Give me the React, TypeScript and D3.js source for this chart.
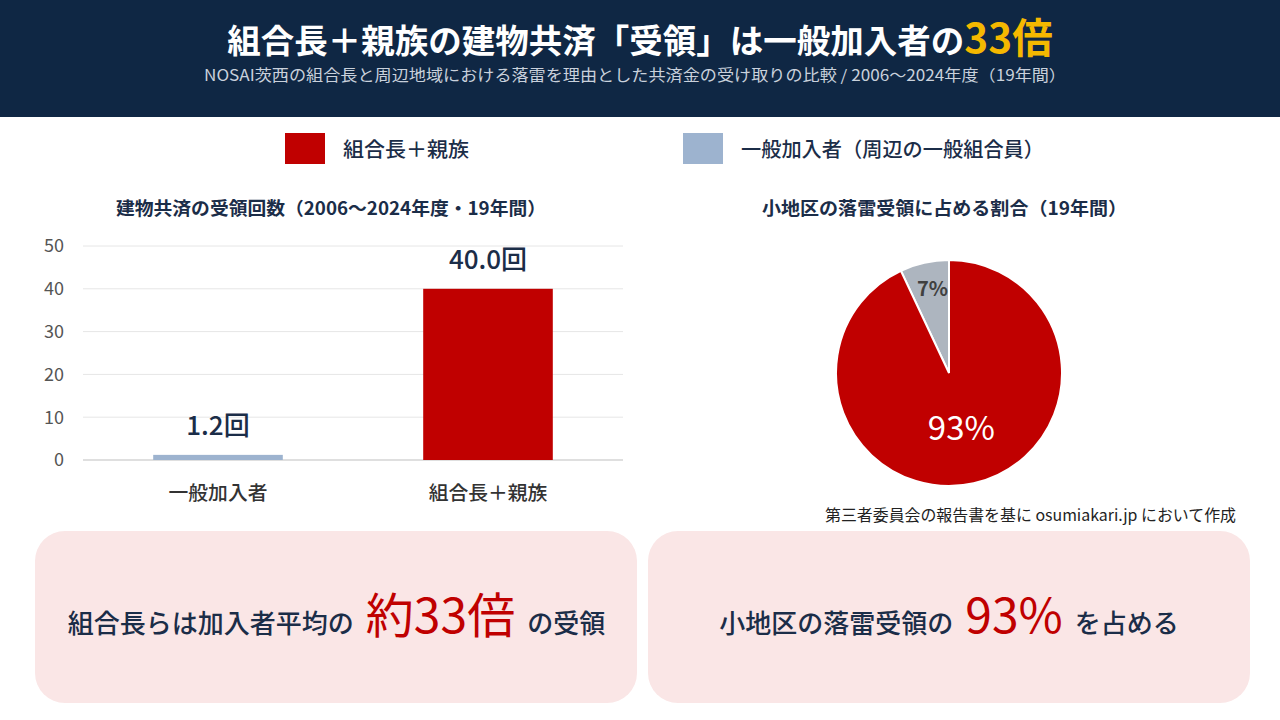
import React from "react";
import * as d3 from "d3";

const categories = ["一般加入者", "組合長＋親族"];
const counts = [1.2, 40.0];
const countLabels = ["1.2回", "40.0回"];
const yTicks = [0, 10, 20, 30, 40, 50];
const pieNames = ["組合長＋親族", "一般加入者"];
const pieValues = [93, 7];
const pieLabels = ["93%", "7%"];

const NAVY = "#0f2744";
const RED = "#c00000";
const BLUEGREY = "#9db3cf";
const PIEGREY = "#adb5bf";
const TEXT = "#1b2d48";
const FONT = "'Noto Sans CJK JP', 'Noto Sans', sans-serif";

export default function App() {
  const W = 1280, H = 720;
  const x = d3.scaleBand().domain(categories).range([83, 623]).paddingInner(0.52).paddingOuter(0.26);
  const y = d3.scaleLinear().domain([0, 50]).range([460, 246]);
  const barColors = [BLUEGREY, RED];

  const greyAngle = 2 * Math.PI * pieValues[1] / 100;
  const arcsData = d3.pie<number>().sort(null).startAngle(-greyAngle).endAngle(2 * Math.PI - greyAngle)([pieValues[1], pieValues[0]]);
  const R = 113;
  const cx = 949, cy = 373;
  const arc = d3.arc<d3.PieArcDatum<number>>().innerRadius(0).outerRadius(R);
  const sliceColors = [PIEGREY, RED];

  const greyC = d3.arc<d3.PieArcDatum<number>>().innerRadius(R * 0.75).outerRadius(R * 0.75).centroid(arcsData[0]);
  const redC = d3.arc<d3.PieArcDatum<number>>().innerRadius(R * 0.5).outerRadius(R * 0.5).centroid(arcsData[1]);

  return (
    <svg width={W} height={H} style={{ display: "block", position: "absolute", left: 0, top: 0 }} fontFamily={FONT}>
      <rect x={0} y={0} width={W} height={H} fill="#ffffff" />
      <rect x={0} y={0} width={W} height={117} fill={NAVY} />
      <text x={640} y={53} textAnchor="middle" fill="#ffffff" fontWeight={700} fontSize={33.5}>
        組合長＋親族の建物共済「受領」は一般加入者の<tspan fill="#f5b800" fontSize={40.5}>33倍</tspan>
      </text>
      <text x={635} y={81} textAnchor="middle" fill="#c9d1dc" fontSize={15.5} textLength={862} lengthAdjust="spacingAndGlyphs">
        NOSAI茨西の組合長と周辺地域における落雷を理由とした共済金の受け取りの比較 / 2006〜2024年度（19年間）
      </text>

      {/* legend */}
      <rect x={285} y={133} width={40} height={31} fill={RED} />
      <text x={343} y={157} fill={TEXT} fontSize={20.5} fontWeight={500} textLength={126} lengthAdjust="spacingAndGlyphs">{pieNames[0]}</text>
      <rect x={683} y={133} width={40} height={31} fill={BLUEGREY} />
      <text x={741} y={157} fill={TEXT} fontSize={20.5} fontWeight={500} textLength={303} lengthAdjust="spacingAndGlyphs">一般加入者（周辺の一般組合員）</text>

      {/* bar chart */}
      <text x={331} y={215} textAnchor="middle" fill={TEXT} fontSize={18} fontWeight={700} textLength={430} lengthAdjust="spacingAndGlyphs">
        建物共済の受領回数（2006〜2024年度・19年間）
      </text>
      {yTicks.map((t) => (
        <g key={t}>
          <line x1={83} x2={623} y1={y(t)} y2={y(t)} stroke={t === 0 ? "#bfbfbf" : "#e6e6e6"} strokeWidth={1} />
          <text x={64} y={y(t)} dy="0.35em" textAnchor="end" fill="#555" fontSize={18}>{t}</text>
        </g>
      ))}
      {categories.map((c, i) => (
        <g key={c}>
          <rect x={x(c)!} y={y(counts[i])} width={x.bandwidth()} height={y(0) - y(counts[i])} fill={barColors[i]} />
          <text x={x(c)! + x.bandwidth() / 2} y={y(counts[i]) - 20} textAnchor="middle" fill={TEXT} fontSize={26} fontWeight={500}>
            {countLabels[i]}
          </text>
          <text x={x(c)! + x.bandwidth() / 2} y={500} textAnchor="middle" fill="#333" fontSize={19.8} fontWeight={500}>
            {c}
          </text>
        </g>
      ))}

      {/* pie */}
      <text x={944.5} y={215} textAnchor="middle" fill={TEXT} fontSize={18} fontWeight={700} textLength={365} lengthAdjust="spacingAndGlyphs">
        小地区の落雷受領に占める割合（19年間）
      </text>
      <g transform={`translate(${cx},${cy})`}>
        {arcsData.map((a, i) => (
          <path key={i} d={arc(a)!} fill={sliceColors[i]} stroke="#ffffff" strokeWidth={2} />
        ))}
        <text x={greyC[0] + 2} y={greyC[1] - 1} dy="0.35em" textAnchor="middle" fill="#404040" fontSize={20} fontWeight={600}>{pieLabels[1]}</text>
        <text x={redC[0]} y={redC[1]} dy="0.35em" textAnchor="middle" fill="#ffffff" fontSize={33}>{pieLabels[0]}</text>
      </g>
      <text x={1236} y={521} textAnchor="end" fill="#222" fontSize={15.5} textLength={411} lengthAdjust="spacingAndGlyphs">第三者委員会の報告書を基に osumiakari.jp において作成</text>

      {/* cards */}
      <rect x={35} y={531} width={602} height={172} rx={30} fill="#fae6e6" />
      <text x={336.5} y={633} textAnchor="middle" fill={TEXT} fontSize={26} fontWeight={500}>
        組合長らは加入者平均の<tspan dx={12} fill={RED} fontSize={48} fontWeight={400}>約33倍</tspan><tspan dx={12}>の受領</tspan>
      </text>
      <rect x={648} y={531} width={602} height={172} rx={30} fill="#fae6e6" />
      <text x={949} y={633} textAnchor="middle" fill={TEXT} fontSize={26} fontWeight={500}>
        小地区の落雷受領の<tspan dx={12} fill={RED} fontSize={48} fontWeight={400}>93%</tspan><tspan dx={12}>を占める</tspan>
      </text>
    </svg>
  );
}
